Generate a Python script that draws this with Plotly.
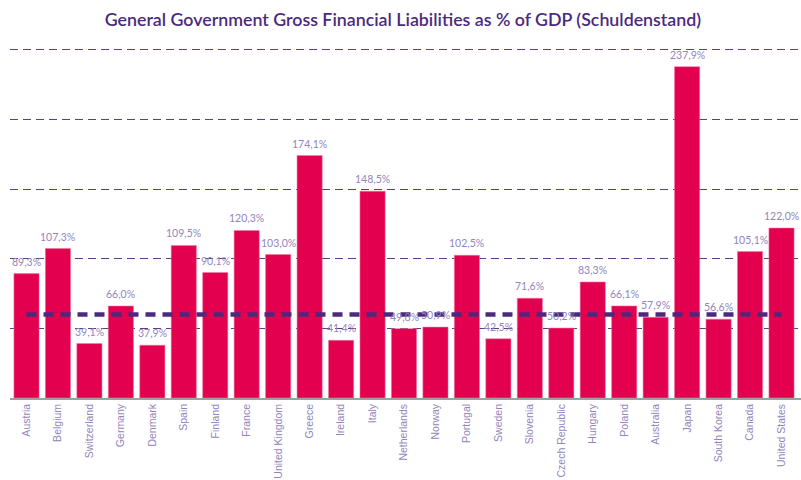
import plotly.graph_objects as go

countries = ["Austria", "Belgium", "Switzerland", "Germany", "Denmark", "Spain", "Finland",
             "France", "United Kingdom", "Greece", "Ireland", "Italy", "Netherlands", "Norway",
             "Portugal", "Sweden", "Slovenia", "Czech Republic", "Hungary", "Poland",
             "Australia", "Japan", "South Korea", "Canada", "United States"]
values = [89.3, 107.3, 39.1, 66.0, 37.9, 109.5, 90.1, 120.3, 103.0, 174.1, 41.4, 148.5,
          49.8, 50.9, 102.5, 42.5, 71.6, 50.2, 83.3, 66.1, 57.9, 237.9, 56.6, 105.1, 122.0]
threshold = 60
labels = [f"{v:.1f}%".replace(".", ",") for v in values]

BAR = "#E2004F"
PURPLE = "#4B2A7D"
GRID = "#5B3D8C"
LAV = "#9285BE"

fig = go.Figure()
fig.add_trace(go.Bar(
    x=countries, y=values,
    marker=dict(color=BAR, line=dict(color="rgba(240,120,160,0.55)", width=1)),
    hoverinfo="skip", showlegend=False,
))
fig.add_trace(go.Scatter(
    x=[countries[0], countries[-1]], y=[threshold, threshold],
    mode="lines", line=dict(color=PURPLE, width=4.5, dash="10px,7px"),
    hoverinfo="skip", showlegend=False,
))
for c, v, t in zip(countries, values, labels):
    fig.add_annotation(x=c, y=v, text=t, showarrow=False, yanchor="middle", yshift=12,
                       font=dict(family="Lato", size=10.5, color=LAV))

fig.update_layout(
    width=801, height=480,
    margin=dict(l=10, r=0, t=47, b=82),
    paper_bgcolor="white", plot_bgcolor="white",
    bargap=0.2,
    title=dict(text="General Government Gross Financial Liabilities as % of GDP (Schuldenstand)",
               x=0.503, xanchor="center", y=1 - 20 / 480, yanchor="middle", yref="container",
               font=dict(family="Lato", size=17.8, color=PURPLE, weight=600)),
    xaxis=dict(showline=True, linecolor="#A0A0A0", linewidth=1.5, tickangle=-90,
               tickfont=dict(family="Liberation Sans", size=10.5, color=LAV),
               showgrid=False, automargin=False, fixedrange=True),
    yaxis=dict(range=[0, 252], tickvals=[50, 100, 150, 200, 250], showticklabels=False,
               showgrid=True, gridcolor=GRID, gridwidth=1.2, griddash="8px,5px",
               zeroline=False, automargin=False, fixedrange=True),
)

fig.write_html("out.html")
